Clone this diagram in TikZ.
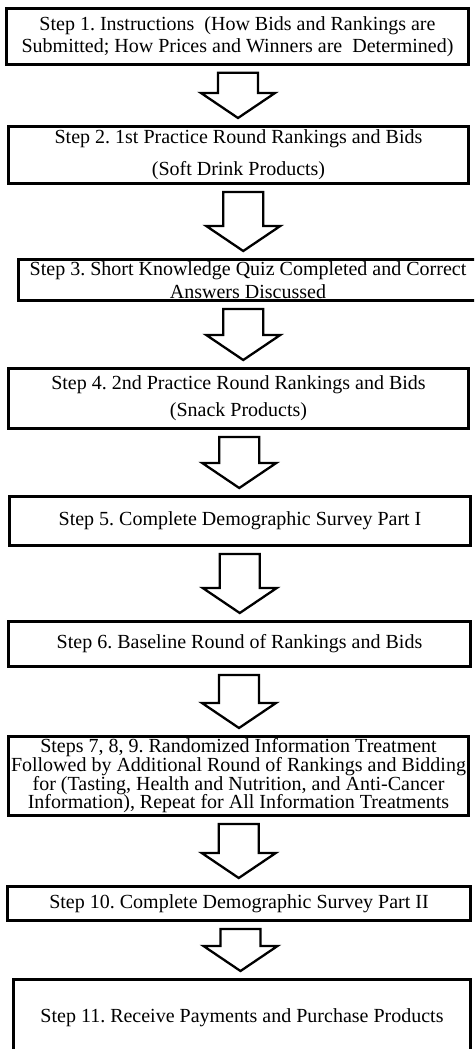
\documentclass[tikz,border=0pt]{standalone}
\usepackage{fontspec}
\setmainfont{Liberation Serif}
\usetikzlibrary{calc}
\frenchspacing

\tikzset{
  stepbox/.style={draw, line width=2.6pt, align=center, inner sep=0pt,
    font=\fontsize{20}{22}\selectfont},
  flow/.style={draw, line width=2.3pt, fill=white, line join=miter,
    to path={let \p1=(\tikztostart), \p2=(\tikztotarget),
      \p3=($(\tikztostart)!.5!(\tikztotarget)$) in
      (\x3-20pt,\y1-7pt) -- (\x3+20pt,\y1-7pt) -- (\x3+20pt,\y2+32pt)
      -- (\x3+37pt,\y2+32pt) -- (\x3,\y2+7pt) -- (\x3-37pt,\y2+32pt)
      -- (\x3-20pt,\y2+32pt) -- cycle}}
}

\begin{document}
\begin{tikzpicture}[x=1pt, y=-1pt]
  \useasboundingbox (0,0) rectangle (474,1049);
  \clip (0,0) rectangle (474,1049);

  % the steps
  \node[stepbox, minimum width=462pt, minimum height=56pt] (s1) at (237.5,36.5)
    {Step 1. Instructions\ \ (How Bids and Rankings are\\Submitted; How Prices and Winners are\ \ Determined)};
  \node[stepbox, minimum width=460pt, minimum height=57.4pt] (s2) at (238.5,155)
    {Step 2. 1st Practice Round Rankings and Bids\\[10pt](Soft Drink Products)};
  \node[stepbox, minimum width=459pt, minimum height=41.4pt] (s3) at (248,280)
    {Step 3. Short Knowledge Quiz Completed and Correct\\[1pt]Answers Discussed};
  \node[stepbox, minimum width=460pt, minimum height=60.4pt] (s4) at (238.5,398.5)
    {Step 4. 2nd Practice Round Rankings and Bids\\[5pt](Snack Products)};
  \node[stepbox, minimum width=461pt, minimum height=49.4pt] (s5) at (240,521)
    {Step 5. Complete Demographic Survey Part I};
  \node[stepbox, minimum width=462pt, minimum height=45.4pt] (s6) at (239.5,644)
    {Step 6. Baseline Round of Rankings and Bids};
  \node[stepbox, minimum width=460pt, minimum height=79.4pt, font=\fontsize{20}{18.7}\selectfont] (s7) at (238.5,776)
    {Steps 7, 8, 9. Randomized Information Treatment\\Followed by Additional Round of Rankings and Bidding\\for (Tasting, Health and Nutrition, and Anti-Cancer\\Information), Repeat for All Information Treatments};
  \node[stepbox, minimum width=463pt, minimum height=34.4pt] (s8) at (239,903.5)
    {Step 10. Complete Demographic Survey Part II};
  \node[stepbox, minimum width=457pt, minimum height=77.4pt] (s9) at (242,1018)
    {Step 11. Receive Payments and Purchase Products};

  % block arrows between the steps
  \foreach \a/\b in {s1/s2, s2/s3, s3/s4, s4/s5, s5/s6, s6/s7, s7/s8, s8/s9} {
    \draw[flow] (\a.south) to (\b.north);
  }
\end{tikzpicture}
\end{document}
